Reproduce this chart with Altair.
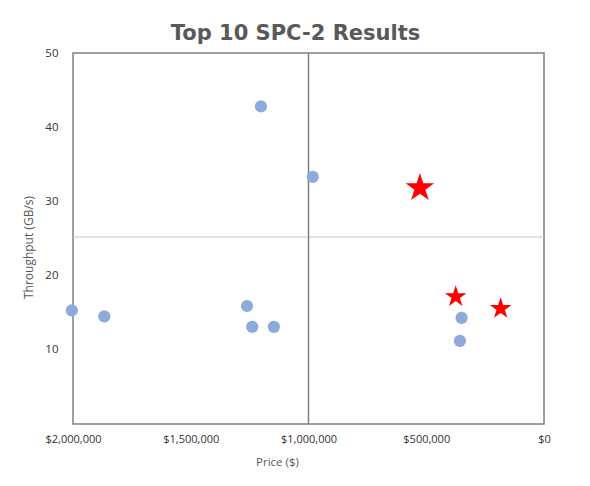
import altair as alt
import pandas as pd

# Data
circle_price = [2005000, 1867000, 1202000, 1261000, 1239000, 1147000, 982000, 350000, 357000]
circle_tp = [15.3, 14.5, 42.8, 15.9, 13.1, 13.1, 33.3, 14.3, 11.2]
big_star_price = [527000]
big_star_tp = [32.0]
star_price = [375000, 184000]
star_tp = [17.3, 15.7]
ref_price = [1000000]
ref_tp = [25.2]
x_ticks = [2000000, 1500000, 1000000, 500000, 0]
y_ticks = [10, 20, 30, 40, 50]

circles = pd.DataFrame({"price": circle_price, "tp": circle_tp})
big_stars = pd.DataFrame({"price": big_star_price, "tp": big_star_tp})
stars = pd.DataFrame({"price": star_price, "tp": star_tp})
vref = pd.DataFrame({"price": ref_price})
href = pd.DataFrame({"tp": ref_tp})

STAR = ("M0,-0.905 L0.2245,-0.214 L0.951,-0.214 L0.363,0.213 L0.588,0.904 "
        "L0,0.477 L-0.588,0.904 L-0.363,0.213 L-0.951,-0.214 L-0.2245,-0.214 Z")

xscale = alt.Scale(domain=[0, 2000000], reverse=True, nice=False)
yscale = alt.Scale(domain=[0, 50], nice=False)

xaxis = alt.Axis(values=x_ticks, format="$,.0f", title="Price ($)", grid=False,
                 ticks=False, tickSize=0, domain=False, labelPadding=9, labelFlush=False,
                 labelFont="Open Sans", labelFontSize=11, labelColor="#333333",
                 titleFont="Open Sans", titleFontSize=11.5, titleColor="#595959",
                 titleFontWeight="normal", titleX=204, titleY=38,
                 titleAlign="center", titleBaseline="middle")
yaxis = alt.Axis(values=y_ticks, title="Throughput (GB/s)", grid=False,
                 ticks=False, tickSize=0, domain=False, labelPadding=15, labelFlush=False,
                 labelFont="Open Sans", labelFontSize=11.5, labelColor="#333333",
                 titleFont="Open Sans", titleFontSize=12, titleColor="#595959",
                 titleFontWeight="normal", titleX=-45, titleY=194,
                 titleAlign="center", titleBaseline="middle", titleAngle=270)

X = alt.X("price:Q", scale=xscale, axis=xaxis)
Y = alt.Y("tp:Q", scale=yscale, axis=yaxis)

vline = alt.Chart(vref).mark_rule(color="#7f7f7f", strokeWidth=1.5).encode(
    x=alt.X("price:Q", scale=xscale, axis=xaxis))
hline = alt.Chart(href).mark_rule(color="#c8c8c8", strokeWidth=1).encode(
    y=alt.Y("tp:Q", scale=yscale, axis=yaxis))

pts = alt.Chart(circles).mark_circle(size=150, color="#8eaadc", opacity=1).encode(x=X, y=Y)
bigs = alt.Chart(big_stars).mark_point(shape=STAR, size=900, filled=True,
                                       color="#ff0000", opacity=1, strokeWidth=0).encode(x=X, y=Y)
smalls = alt.Chart(stars).mark_point(shape=STAR, size=520, filled=True,
                                     color="#ff0000", opacity=1, strokeWidth=0).encode(x=X, y=Y)

chart = alt.layer(hline, vline, pts, bigs, smalls).properties(
    width=471, height=371,
    background="white",
    autosize=alt.AutoSizeParams(type="none"),
    padding={"left": 65, "top": 45, "right": 30, "bottom": 50},
    title=alt.TitleParams("Top 10 SPC-2 Results", font="DejaVu Sans", fontSize=21,
                          fontWeight="bold", color="#595959", anchor="middle",
                          dx=-13, offset=3),
).configure_view(stroke="#808080", strokeWidth=1.5)

chart.save("out.html", embed_options={"renderer": "svg", "actions": False})
